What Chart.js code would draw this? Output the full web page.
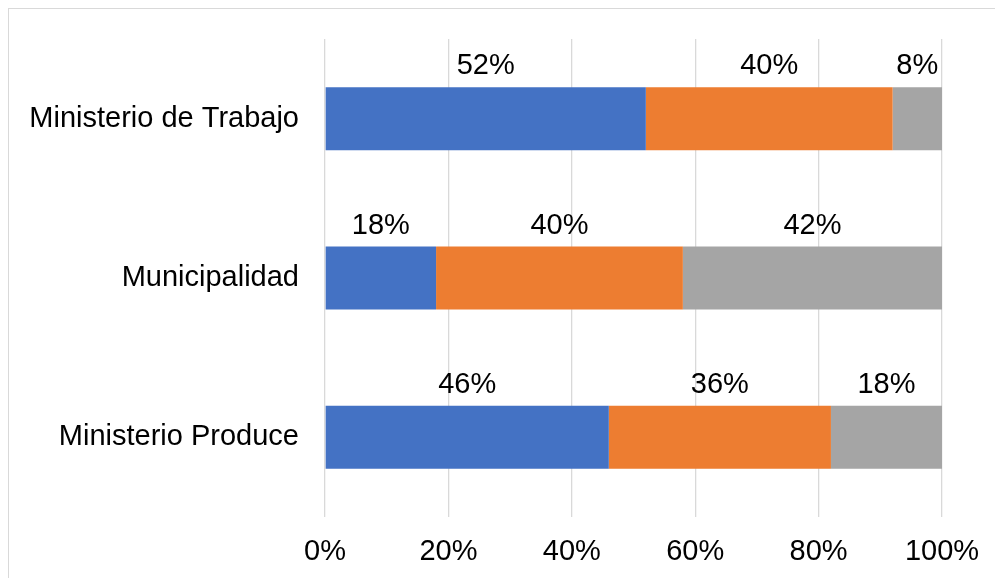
<!DOCTYPE html>
<html>
<head>
<meta charset="utf-8">
<script src="https://cdn.jsdelivr.net/npm/chart.js@4"></script>
<style>
  html, body { margin: 0; padding: 0; background: #fff; overflow: hidden; }
  #wrap { position: relative; width: 995px; height: 578px; }
  #frame {
    position: absolute; left: 8px; top: 8px; width: 1000px; height: 600px;
    border-left: 1.5px solid #d9d9d9; border-top: 1.5px solid #d9d9d9;
  }
  canvas { position: absolute; left: 0; top: 0; }
</style>
</head>
<body>
<div id="wrap">
  <div id="frame"></div>
  <canvas id="chart" width="995" height="578"></canvas>
</div>
<script>
// data
const categories = ["Ministerio de Trabajo", "Municipalidad", "Ministerio Produce"];
const serieA = [52, 18, 46];
const serieB = [40, 40, 36];
const serieC = [8, 42, 18];
const xTicks = [0, 20, 40, 60, 80, 100];

const colors = ["#4472C4", "#ED7D31", "#A5A5A5"];
const fontFamily = "'Liberation Sans', Arial, sans-serif";

// labels above each segment
const labelsAbove = {
  id: "labelsAbove",
  afterDatasetsDraw(chart) {
    const ctx = chart.ctx;
    ctx.save();
    ctx.font = "29px " + fontFamily;
    ctx.fillStyle = "#000";
    ctx.textAlign = "center";
    ctx.textBaseline = "middle";
    chart.data.datasets.forEach((ds, i) => {
      chart.getDatasetMeta(i).data.forEach((bar, j) => {
        const cx = (bar.base + bar.x) / 2;
        const cy = bar.y - bar.height / 2 - 21;
        ctx.fillText(ds.data[j] + "%", cx, cy);
      });
    });
    ctx.restore();
  }
};

new Chart(document.getElementById("chart"), {
  type: "bar",
  data: {
    labels: categories,
    datasets: [
      { label: "A", data: serieA, backgroundColor: colors[0] },
      { label: "B", data: serieB, backgroundColor: colors[1] },
      { label: "C", data: serieC, backgroundColor: colors[2] }
    ]
  },
  options: {
    indexAxis: "y",
    responsive: false,
    animation: false,
    layout: { padding: { top: 39, right: 53, left: 0, bottom: 0 } },
    datasets: {
      bar: { barPercentage: 0.395, categoryPercentage: 1, borderWidth: 0 }
    },
    plugins: {
      legend: { display: false },
      tooltip: { enabled: false }
    },
    scales: {
      x: {
        stacked: true,
        min: 0,
        max: 100,
        afterBuildTicks: (s) => { s.ticks = xTicks.map(v => ({ value: v })); },
        afterFit: (s) => {
          s.height = 578 - 517;
          s.paddingLeft = 0;
          s.paddingRight = 0;
        },
        ticks: {
          color: "#000",
          font: { size: 29, family: fontFamily },
          padding: 18,
          callback: (v) => v + "%"
        },
        grid: { color: "#d9d9d9", lineWidth: 1.3, drawTicks: false },
        border: { display: false }
      },
      y: {
        stacked: true,
        afterFit: (s) => {
          s.width = 325;
          s.paddingTop = 0;
          s.paddingBottom = 0;
        },
        ticks: {
          color: "#000",
          font: { size: 29, family: fontFamily },
          padding: 26
        },
        grid: { display: false, drawTicks: false },
        border: { display: false }
      }
    }
  },
  plugins: [labelsAbove]
});
</script>
</body>
</html>
